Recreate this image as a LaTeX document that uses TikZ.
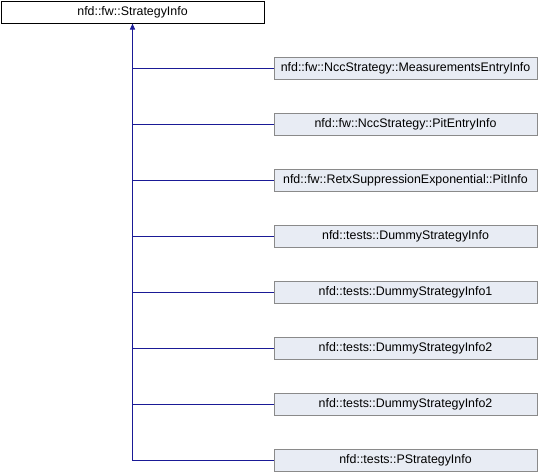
\documentclass[tikz,border=0pt]{standalone}
\usepackage{fontspec}
\setmainfont{Liberation Sans}
\usepackage{xcolor}
\definecolor{edgeblue}{HTML}{1A1A96}
\definecolor{boxfill}{HTML}{E8ECF4}
\definecolor{boxline}{HTML}{8A8A8A}
\usepackage{tikz}
\usetikzlibrary{arrows.meta, positioning}

\tikzset{
  cls/.style={draw, line width=1pt, minimum width=263pt, minimum height=22pt,
    inner sep=0pt, font=\fontsize{12.4}{14}\selectfont},
  basecls/.style={cls, draw=black, fill=white},
  subcls/.style={cls, draw=boxline, fill=boxfill},
  inherit/.style={draw=edgeblue, line width=1pt}
}

\begin{document}
\begin{tikzpicture}[x=1pt, y=-1pt]
  \useasboundingbox (0,0) rectangle (538,472);

  % base class
  \node[basecls] (base) at (132.5,12) {nfd::fw::StrategyInfo};

  % derived classes, 56px apart
  \node[subcls] (mei)  at (405.5,68)  {nfd::fw::NccStrategy::MeasurementsEntryInfo};
  \node[subcls] (pei)  at (405.5,124) {nfd::fw::NccStrategy::PitEntryInfo};
  \node[subcls] (rsp)  at (405.5,180) {nfd::fw::RetxSuppressionExponential::PitInfo};
  \node[subcls] (dsi)  at (405.5,236) {nfd::tests::DummyStrategyInfo};
  \node[subcls] (dsi1) at (405.5,292) {nfd::tests::DummyStrategyInfo1};
  \node[subcls] (dsi2) at (405.5,348) {nfd::tests::DummyStrategyInfo2};
  \node[subcls] (dsi3) at (405.5,404) {nfd::tests::DummyStrategyInfo2};
  \node[subcls] (psi)  at (405.5,460) {nfd::tests::PStrategyInfo};

  % trunk with arrow into base
  \draw[inherit, -{Triangle[length=6pt,width=5pt]}] (psi.west) -| (base.south);
  \foreach \c in {mei,pei,rsp,dsi,dsi1,dsi2,dsi3}
    \draw[inherit] (\c.west) -- (\c.west -| base.south);
\end{tikzpicture}
\end{document}
